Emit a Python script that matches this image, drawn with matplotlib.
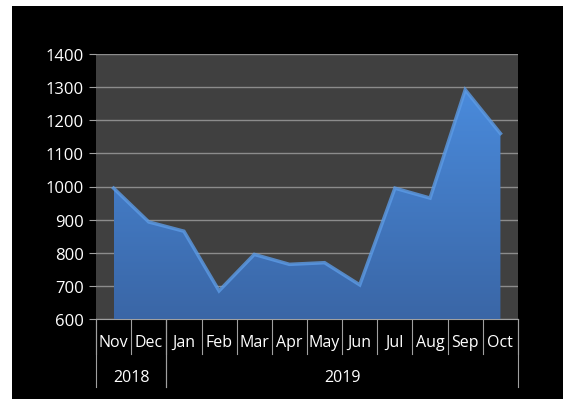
import numpy as np
import matplotlib
matplotlib.use("Agg")
import matplotlib.pyplot as plt
from matplotlib.patches import Polygon, Rectangle
from matplotlib.colors import LinearSegmentedColormap
from matplotlib.transforms import blended_transform_factory

months = ["Nov", "Dec", "Jan", "Feb", "Mar", "Apr", "May", "Jun", "Jul", "Aug", "Sep", "Oct"]
values = [995, 893, 865, 685, 795, 765, 770, 703, 995, 965, 1292, 1160]
years = ["2018", "2019"]
year_spans = [(0, 1), (2, 11)]
yticks = [600, 700, 800, 900, 1000, 1100, 1200, 1300, 1400]

plt.rcParams["font.family"] = ["Open Sans", "DejaVu Sans"]

fig = plt.figure(figsize=(5.63, 4.02), dpi=100, facecolor="white")
# black chart area (small white strip at left/top as in the screenshot)
bg = Rectangle((12/563, 2/402), (563-12)/563, (395-2)/402,
               transform=fig.transFigure, facecolor="black", edgecolor="none", zorder=-10)
fig.add_artist(bg)
ax = fig.add_axes([96/563, 1-320/402, (518-96)/563, (320-55)/402])
ax.set_facecolor("#404040")

x = np.arange(len(months))
ax.set_xlim(-0.5, len(months) - 0.5)
ax.set_ylim(600, 1400)

# gradient-filled area
verts = [(x[0], 600)] + list(zip(x, values)) + [(x[-1], 600)]
poly = Polygon(verts, closed=True, facecolor="none", edgecolor="none")
ax.add_patch(poly)
grad = np.linspace(0, 1, 256).reshape(-1, 1)
cmap = LinearSegmentedColormap.from_list("blu", ["#3a66a6", "#4a8bdc"])
img = ax.imshow(grad, cmap=cmap, aspect="auto", origin="lower",
                extent=[x[0], x[-1], 600, 1300], zorder=3)
img.set_clip_path(poly)
ax.plot(x, values, color="#5c9be6", lw=2.5, zorder=4, solid_joinstyle="miter", alpha=0.8)

# grid
ax.set_yticks(yticks)
ax.yaxis.grid(True, color="#8c8c8c", lw=1)
ax.set_axisbelow(True)
for s in ["top", "right", "left"]:
    ax.spines[s].set_visible(False)
ax.spines["bottom"].set_color("#a0a0a0")
ax.tick_params(axis="y", colors="#a0a0a0", length=5, labelcolor="white", labelsize=12, pad=4)
ax.set_xticks([])

# two-level category axis
trans = blended_transform_factory(ax.transData, ax.transAxes)
h = ax.get_position().height * 402
for i, m in enumerate(months):
    ax.text(i, -23/h, m, transform=trans, ha="center", va="center", color="white", fontsize=11.5)
for b in np.arange(-0.5, len(months), 1.0):
    ax.plot([b, b], [0, -35/h], transform=trans, color="#a0a0a0", lw=0.8, clip_on=False)
for (a, b), yr in zip(year_spans, years):
    ax.text((a + b) / 2, -58/h, yr, transform=trans, ha="center", va="center", color="white", fontsize=11.5)
    for e in (a - 0.5, b + 0.5):
        ax.plot([e, e], [0, -68/h], transform=trans, color="#a0a0a0", lw=0.8, clip_on=False)

fig.savefig("out.png", facecolor="white")
